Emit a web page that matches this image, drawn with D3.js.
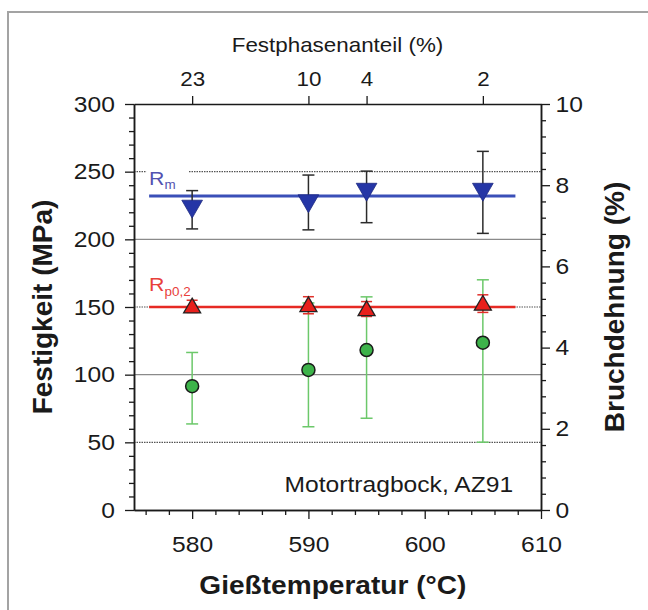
<!DOCTYPE html>
<html>
<head>
<meta charset="utf-8">
<script src="https://cdn.jsdelivr.net/npm/d3@7"></script>
<style>
  body { margin: 0; background: #fff; }
  svg { font-family: "Liberation Sans", Arial, sans-serif; }
</style>
</head>
<body>
<div id="chart"></div>
<script>
// casting temperature (°C) and matching solid fraction (%)
const temps = [580, 590, 595, 605];
const solidFrac = [23, 10, 4, 2];

// tensile strength Rm (MPa)
const rmVal = [224.5, 228.5, 237, 237];
const rmLo = [207.7, 207, 212.3, 204.4];
const rmHi = [236, 247.5, 250.4, 265];

// yield strength Rp0,2 (MPa)
const rpVal = [150, 151, 148, 152];
const rpLo = [146, 145, 143, 146];
const rpHi = [155, 157.6, 154, 159];

// elongation at fracture (%)
const elong = [3.05, 3.45, 3.94, 4.12];
const elongLo = [2.12, 2.05, 2.26, 1.67];
const elongHi = [3.88, 5.1, 5.25, 5.67];

// mean lines
const rmMean = 232;
const rpMean = 150;
const meanSpan = [576.3, 607.8];

const leftTicks = [0, 50, 100, 150, 200, 250, 300];
const rightTicks = [0, 2, 4, 6, 8, 10];
const bottomTicks = [580, 590, 600, 610];
const solidGrid = [200, 100];
const dottedGrid = [250, 150, 50];

const W = 648, H = 610;
const SX = 1.12; // source picture is a little stretched sideways

const svg = d3.select('#chart').append('svg')
  .attr('width', W)
  .attr('height', H);

// frame around the figure
svg.append('rect')
  .attr('x', 8).attr('y', 12)
  .attr('width', 700).attr('height', 700)
  .attr('fill', '#fff')
  .attr('stroke', '#a3a3a3')
  .attr('stroke-width', 2);

const x = d3.scaleLinear().domain([575, 610]).range([134, 541]);
const y = d3.scaleLinear().domain([0, 300]).range([510, 104]);
const y2 = d3.scaleLinear().domain([0, 10]).range([510, 104]);

// grid lines
svg.append('g').selectAll('line')
  .data(solidGrid)
  .join('line')
  .attr('x1', x(575)).attr('x2', x(610))
  .attr('y1', d => y(d)).attr('y2', d => y(d))
  .attr('stroke', '#8a8a8a')
  .attr('stroke-width', 1.2);

svg.append('g').selectAll('line')
  .data(dottedGrid)
  .join('line')
  .attr('x1', x(575)).attr('x2', x(610))
  .attr('y1', d => y(d)).attr('y2', d => y(d))
  .attr('stroke', '#555')
  .attr('stroke-width', 1.2)
  .attr('stroke-dasharray', '1.5,1');

// mean lines
svg.append('line')
  .attr('x1', x(meanSpan[0])).attr('x2', x(meanSpan[1]))
  .attr('y1', y(rmMean)).attr('y2', y(rmMean))
  .attr('stroke', '#3a4fb8')
  .attr('stroke-width', 3);

svg.append('line')
  .attr('x1', x(meanSpan[0])).attr('x2', x(meanSpan[1]))
  .attr('y1', y(rpMean)).attr('y2', y(rpMean))
  .attr('stroke', '#e62a24')
  .attr('stroke-width', 2.5);

// series labels (white box hides the dotted 250 line behind Rm)
const rmLab = svg.append('g')
  .attr('transform', `translate(${x(576.3)},${y(240)})`);
rmLab.append('rect')
  .attr('x', -3).attr('y', -18).attr('width', 42).attr('height', 26)
  .attr('fill', '#fff');
const rmText = rmLab.append('text')
  .attr('fill', '#5252b0')
  .attr('font-size', 19)
  .attr('transform', `scale(${SX},1)`);
rmText.append('tspan').text('R');
rmText.append('tspan').attr('font-size', 12).attr('dy', 4).text('m');

const rpText = svg.append('text')
  .attr('transform', `translate(${x(576.3)},${y(162)}) scale(${SX},1)`)
  .attr('fill', '#e8403a')
  .attr('font-size', 19);
rpText.append('tspan').text('R');
rpText.append('tspan').attr('font-size', 12).attr('dy', 5).text('p0,2');

// error bars
function errorBars(lo, hi, yScale, color, capW, width) {
  const g = svg.append('g')
    .attr('stroke', color)
    .attr('stroke-width', width);
  g.selectAll('.stem')
    .data(temps)
    .join('line')
    .attr('class', 'stem')
    .attr('x1', d => x(d)).attr('x2', d => x(d))
    .attr('y1', (d, i) => yScale(lo[i])).attr('y2', (d, i) => yScale(hi[i]));
  [lo, hi].forEach(arr => {
    g.append('g').selectAll('line')
      .data(temps)
      .join('line')
      .attr('x1', d => x(d) - capW / 2).attr('x2', d => x(d) + capW / 2)
      .attr('y1', (d, i) => yScale(arr[i])).attr('y2', (d, i) => yScale(arr[i]));
  });
}

errorBars(elongLo, elongHi, y2, '#6cc86a', 12, 1.5);
errorBars(rmLo, rmHi, y, '#2b2b2b', 12, 1.5);
errorBars(rpLo, rpHi, y, '#e0302a', 11, 1.5);

// markers
const triDown = d3.symbol().type(d3.symbolTriangle).size(185);

svg.append('g').selectAll('path')
  .data(temps)
  .join('path')
  .attr('d', triDown)
  .attr('transform', (d, i) => `translate(${x(d)},${y(rmVal[i])}) rotate(180)`)
  .attr('fill', '#2536a6')
  .attr('stroke', '#1d2a80')
  .attr('stroke-width', 0.8);

svg.append('g').selectAll('path')
  .data(temps)
  .join('path')
  .attr('d', d3.symbol().type(d3.symbolTriangle).size(125))
  .attr('transform', (d, i) => `translate(${x(d)},${y(rpVal[i]) + 1})`)
  .attr('fill', '#e8201c')
  .attr('stroke', '#222')
  .attr('stroke-width', 1.3);

svg.append('g').selectAll('circle')
  .data(temps)
  .join('circle')
  .attr('cx', d => x(d))
  .attr('cy', (d, i) => y2(elong[i]))
  .attr('r', 6.5)
  .attr('fill', '#3db34a')
  .attr('stroke', '#1a1a1a')
  .attr('stroke-width', 1.5);

// axes
function styleAxis(g, size) {
  g.select('.domain').attr('stroke', '#1a1a1a').attr('stroke-width', 1.5);
  g.selectAll('.tick line').attr('stroke', '#1a1a1a').attr('stroke-width', 1.3);
  g.selectAll('.tick text')
    .attr('font-size', size)
    .attr('fill', '#1a1a1a');
}

const minorX = d3.range(576, 610, 2).filter(v => !bottomTicks.includes(v));
const minorY = d3.range(10, 300, 10).filter(v => !leftTicks.includes(v));
const minorY2 = d3.range(0.4, 10, 0.4).filter(v => Math.abs(v / 2 - Math.round(v / 2)) > 0.01);

svg.append('g')
  .attr('transform', 'translate(0,510)')
  .call(d3.axisBottom(x).tickValues(minorX).tickSize(5).tickSizeOuter(0).tickFormat(''))
  .call(g => styleAxis(g, 0));

svg.append('g')
  .attr('transform', 'translate(0,510)')
  .call(d3.axisBottom(x).tickValues(bottomTicks).tickSize(9).tickSizeOuter(0).tickPadding(17))
  .call(g => styleAxis(g, 22))
  .call(g => g.selectAll('.tick text').attr('transform', `scale(${SX},1)`));

svg.append('g')
  .attr('transform', 'translate(0,104)')
  .call(d3.axisTop(x).tickValues(temps).tickSize(8).tickSizeOuter(0).tickPadding(10)
    .tickFormat((d, i) => solidFrac[i]))
  .call(g => styleAxis(g, 20))
  .call(g => g.selectAll('.tick text').attr('transform', `scale(${SX},1)`));

svg.append('g')
  .attr('transform', 'translate(134,0)')
  .call(d3.axisLeft(y).tickValues(minorY).tickSize(5).tickSizeOuter(0).tickFormat(''))
  .call(g => styleAxis(g, 0));

svg.append('g')
  .attr('transform', 'translate(134,0)')
  .call(d3.axisLeft(y).tickValues(leftTicks).tickSize(9).tickSizeOuter(0).tickPadding(8))
  .call(g => styleAxis(g, 22))
  .call(g => g.selectAll('.tick text').attr('transform', `scale(${SX},1)`));

svg.append('g')
  .attr('transform', 'translate(541,0)')
  .call(d3.axisRight(y2).tickValues(minorY2).tickSize(5).tickSizeOuter(0).tickFormat(''))
  .call(g => styleAxis(g, 0));

svg.append('g')
  .attr('transform', 'translate(541,0)')
  .call(d3.axisRight(y2).tickValues(rightTicks).tickSize(9).tickSizeOuter(0).tickPadding(4))
  .call(g => styleAxis(g, 22))
  .call(g => g.selectAll('.tick text').attr('transform', `scale(${SX},1)`));

// axis titles
svg.append('text')
  .attr('transform', `translate(${x(592.5)},52) scale(${SX},1)`)
  .attr('text-anchor', 'middle')
  .attr('font-size', 20)
  .attr('fill', '#1a1a1a')
  .text('Festphasenanteil (%)');

svg.append('text')
  .attr('transform', `translate(${x(592.1)},594) scale(1.08,1)`)
  .attr('text-anchor', 'middle')
  .attr('font-size', 26)
  .attr('font-weight', 'bold')
  .attr('fill', '#1a1a1a')
  .text('Gießtemperatur (°C)');

svg.append('text')
  .attr('transform', `translate(52,${y(150)}) rotate(-90)`)
  .attr('text-anchor', 'middle')
  .attr('font-size', 28)
  .attr('font-weight', 'bold')
  .attr('fill', '#1a1a1a')
  .text('Festigkeit (MPa)');

svg.append('text')
  .attr('transform', `translate(624,${y(150)}) rotate(-90)`)
  .attr('text-anchor', 'middle')
  .attr('font-size', 28)
  .attr('font-weight', 'bold')
  .attr('fill', '#1a1a1a')
  .text('Bruchdehnung (%)');

svg.append('text')
  .attr('transform', `translate(${x(607.6)},${y(13.3)}) scale(${SX},1)`)
  .attr('text-anchor', 'end')
  .attr('font-size', 22)
  .attr('fill', '#1a1a1a')
  .text('Motortragbock, AZ91');
</script>
</body>
</html>
